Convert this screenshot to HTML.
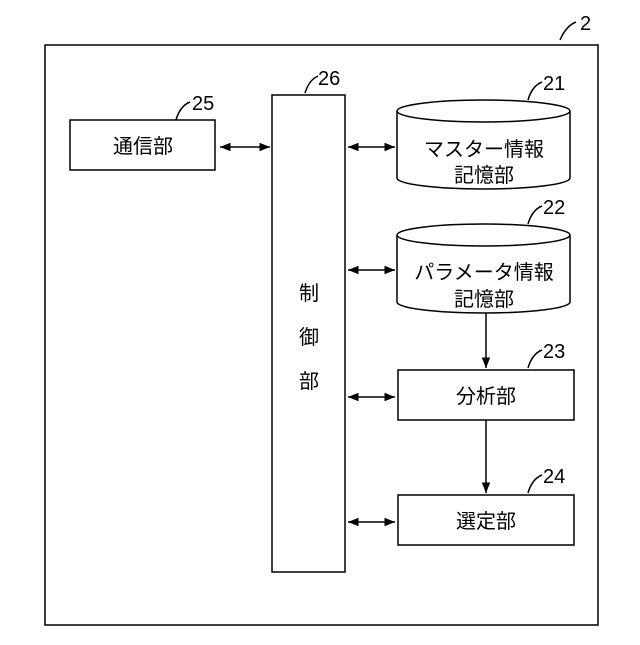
<!DOCTYPE html><html><head><style>body{margin:0;background:#fff}</style></head><body>
<svg width="640" height="640" viewBox="0 0 640 640" xmlns="http://www.w3.org/2000/svg" font-family="Liberation Sans, Noto Sans CJK JP, sans-serif">
<defs><marker id="a" viewBox="0 0 10 10" refX="10" refY="5" markerWidth="7" markerHeight="7" orient="auto-start-reverse"><path d="M0,1L10,5L0,9z" fill="#000"/></marker></defs>
<g fill="none" stroke="#000" stroke-width="1.5">
<rect x="45" y="45" width="553" height="580"/>
<rect x="70" y="120" width="145" height="50"/>
<rect x="272" y="95" width="73" height="477"/>
<rect x="398" y="370" width="176" height="50"/>
<rect x="398" y="495" width="176" height="50"/>
<path d="M397,111 V178 A86.5,11 0 0 0 570,178 V111"/>
<ellipse cx="483.5" cy="111" rx="86.5" ry="11"/>
<path d="M397,235 V302 A86.5,11 0 0 0 570,302 V235"/>
<ellipse cx="483.5" cy="235" rx="86.5" ry="11"/>
<path d="M560,40 Q566,26 576,22"/>
<path d="M176,120 Q180,106 190,102"/>
<path d="M305,93 Q309,80 318,76"/>
<path d="M528,100 Q532,86 542,82"/>
<path d="M528,224 Q532,210 542,206"/>
<path d="M528,368 Q532,354 542,350"/>
<path d="M528,493 Q532,479 542,475"/>
<g marker-start="url(#a)" marker-end="url(#a)">
<line x1="220" y1="147" x2="270" y2="147"/>
<line x1="348" y1="147" x2="395" y2="147"/>
<line x1="348" y1="270" x2="395" y2="270"/>
<line x1="348" y1="397" x2="395" y2="397"/>
<line x1="348" y1="522" x2="395" y2="522"/>
</g>
<line x1="486" y1="313" x2="486" y2="368" marker-end="url(#a)"/>
<line x1="486" y1="420" x2="486" y2="493" marker-end="url(#a)"/>
</g>
<g font-size="20" text-anchor="middle" fill="#000">
<text x="143" y="153">通信部</text>
<text x="484" y="156">マスター情報</text>
<text x="484" y="182">記憶部</text>
<text x="484" y="279">パラメータ情報</text>
<text x="484" y="306">記憶部</text>
<text x="486" y="403">分析部</text>
<text x="486" y="528">選定部</text>
<text x="309" y="300">制</text>
<text x="309" y="344">御</text>
<text x="309" y="388">部</text>
</g>
<g font-size="20" fill="#000">
<text x="580" y="30">2</text>
<text x="192" y="110">25</text>
<text x="318" y="85">26</text>
<text x="543" y="90">21</text>
<text x="543" y="214">22</text>
<text x="543" y="358">23</text>
<text x="543" y="483">24</text>
</g>
</svg></body></html>
